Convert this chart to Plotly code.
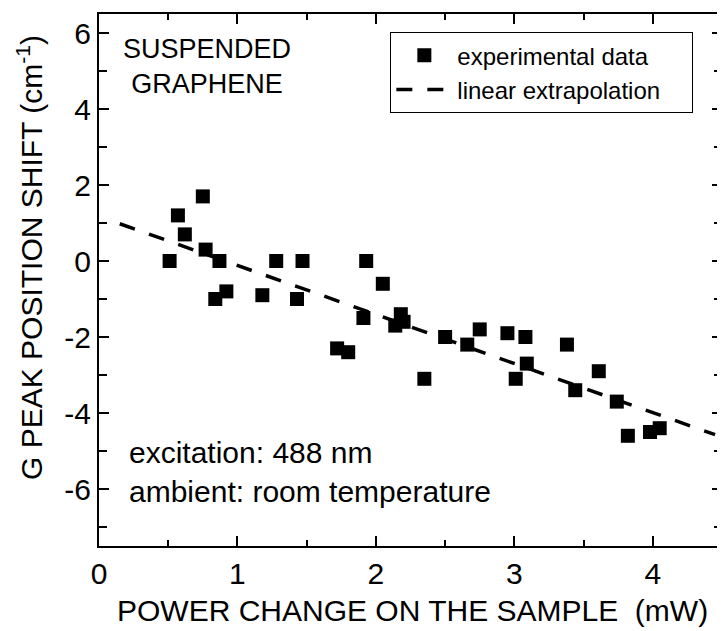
import plotly.graph_objects as go

# experimental data
power_mw = [0.51, 0.57, 0.62, 0.75, 0.77, 0.84, 0.87, 0.92, 1.18, 1.28, 1.43, 1.47,
            1.72, 1.80, 1.91, 1.93, 2.05, 2.14, 2.18, 2.20, 2.35, 2.50, 2.66, 2.75,
            2.95, 3.01, 3.08, 3.09, 3.38, 3.44, 3.61, 3.74, 3.82, 3.98, 4.05]
g_shift = [0.0, 1.2, 0.7, 1.7, 0.3, -1.0, 0.0, -0.8, -0.9, 0.0, -1.0, 0.0,
           -2.3, -2.4, -1.5, 0.0, -0.6, -1.7, -1.4, -1.6, -3.1, -2.0, -2.2, -1.8,
           -1.9, -3.1, -2.0, -2.7, -2.2, -3.4, -2.9, -3.7, -4.6, -4.5, -4.4]

# linear extrapolation endpoints
fit_x = [0.15, 4.45]
fit_y = [0.98, -4.57]

x_ticks = [0, 1, 2, 3, 4]
y_ticks = [-6, -4, -2, 0, 2, 4, 6]

FONT = "Liberation Sans, Arial, sans-serif"
PAD = "&nbsp;" * 4  # extra room at the right of the legend box, as in the reference

fig = go.Figure()
fig.add_trace(go.Scatter(
    x=power_mw, y=g_shift, mode="markers", name="experimental data",
    marker=dict(symbol="square", size=14, color="black", line=dict(width=0)),
))
fig.add_trace(go.Scatter(
    x=fit_x, y=fit_y, mode="lines", name="linear extrapolation" + PAD,
    line=dict(color="black", width=3.5, dash="16px,15px"),
))

axis_common = dict(
    showgrid=False, zeroline=False, showline=True, linecolor="black", linewidth=2,
    mirror="allticks", ticks="inside", tickcolor="black", tickwidth=2, ticklen=10,
    tickfont=dict(family=FONT, size=30, color="black"),
)

fig.update_xaxes(range=[0, 4.5], tickvals=x_ticks, ticktext=[str(v) for v in x_ticks],
                 minor=dict(dtick=0.5, ticks="inside", ticklen=6, tickwidth=2, tickcolor="black"),
                 ticklabelstandoff=0, **axis_common)
fig.update_yaxes(range=[-7.5, 6.5], tickvals=y_ticks, ticktext=[str(v) for v in y_ticks],
                 minor=dict(dtick=1, ticks="inside", ticklen=8, tickwidth=2, tickcolor="black"),
                 ticklabelstandoff=0, **axis_common)

fig.add_annotation(text="POWER CHANGE ON THE SAMPLE&nbsp;&nbsp;(mW)", xref="paper", yref="paper",
                   x=0.504, y=-0.122, showarrow=False, xanchor="center", yanchor="middle",
                   font=dict(family=FONT, size=30, color="black"))
fig.add_annotation(text="G PEAK POSITION SHIFT (cm<sup>-1</sup>)", xref="paper", yref="paper",
                   x=-0.111, y=0.543, textangle=-90, showarrow=False, xanchor="center",
                   yanchor="middle", font=dict(family=FONT, size=30, color="black"))
fig.add_annotation(text="SUSPENDED<br>GRAPHENE", xref="x", yref="y", x=0.78, y=5.11,
                   showarrow=False, xanchor="center", yanchor="middle", align="center",
                   font=dict(family=FONT, size=27, color="black"))
fig.add_annotation(text="excitation: 488 nm<br>ambient: room temperature", xref="x", yref="y",
                   x=0.205, y=-5.55, showarrow=False, xanchor="left", yanchor="middle",
                   align="left", font=dict(family=FONT, size=30, color="black"))

# the page body adds an 8 px offset; margins compensate so the plot area lands where the reference has it
fig.update_layout(
    width=717, height=623,
    margin=dict(l=91, r=1, t=6, b=85),
    paper_bgcolor="white", plot_bgcolor="white",
    showlegend=True,
    legend=dict(x=0.954, y=0.966, xanchor="right", yanchor="top",
                bordercolor="black", borderwidth=1, bgcolor="white",
                itemwidth=56, font=dict(family=FONT, size=24, color="black")),
)

fig.write_html("out.html")
